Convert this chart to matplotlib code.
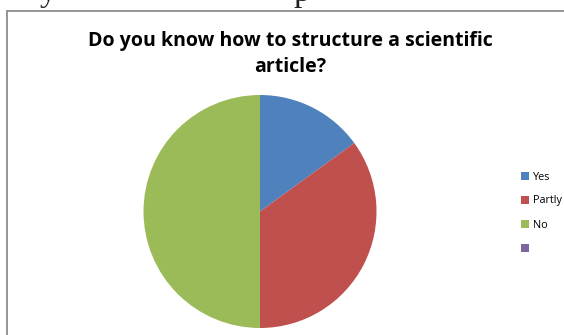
import matplotlib.pyplot as plt
from matplotlib.patches import Rectangle, Patch

categories = ["Yes", "Partly", "No", ""]
shares = [15, 35, 50, 0]
colors = ["#4F81BD", "#C0504D", "#9BBB59", "#8064A2"]
title = "Do you know how to structure a scientific\narticle?"

W, H = 564, 335
fig = plt.figure(figsize=(W / 100, H / 100), dpi=100)

# chart frame (left and top edges visible, cropped on right/bottom)
fig.patches.append(Rectangle((7 / W, -0.1), 1.2, 1.1 - 11 / H, transform=fig.transFigure,
                             fill=False, edgecolor="#8c8c8c", linewidth=1.3))

# stray document text clipped at the top edge
for x, s in [(40, "y"), (293, "p")]:
    fig.text(x / W, 1 - 1 / H, s, fontsize=24, family="Liberation Serif",
             va="baseline", ha="left", color="#222222")

cx, cy, r = 260, 211.5, 116.5
ax = fig.add_axes([(cx - r) / W, 1 - (cy + r) / H, 2 * r / W, 2 * r / H])
wedges, _ = ax.pie(shares, colors=colors, startangle=90, counterclock=False,
                   wedgeprops=dict(linewidth=0))
ax.set_aspect("equal")
ax.set_xlim(-1, 1)
ax.set_ylim(-1, 1)
ax.axis("off")

fig.text(290 / W, 1 - 54 / H, title, ha="center", va="center", fontsize=14.0,
         fontweight="bold", family="Open Sans", linespacing=1.4)

handles = [Patch(facecolor=c, edgecolor="none") for c in colors]
fig.legend(handles, categories, loc="center left", bbox_to_anchor=(511 / W, 1 - 213 / H),
           frameon=False, prop={"family": "Open Sans", "size": 7.8},
           handlelength=0.75, handleheight=0.75, handletextpad=0.35, labelspacing=1.2)

fig.savefig("out.png", dpi=100)
